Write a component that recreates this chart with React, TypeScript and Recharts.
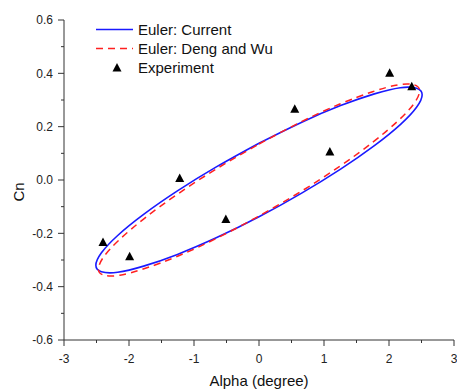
import React from 'react';
import { ComposedChart, Line, Scatter, XAxis, YAxis, Legend, Label } from 'recharts';

// Euler: Current (closed loop, read around the ellipse)
const currentAlpha = [0, 0.65, 1.255, 1.775, 2.174, 2.424, 2.51, 2.424, 2.174, 1.775, 1.255, 0.65, 0, -0.65, -1.255, -1.775, -2.174, -2.424, -2.51, -2.424, -2.174, -1.775, -1.255, -0.65, 0];
const currentCn = [0.138, 0.216, 0.279, 0.323, 0.346, 0.344, 0.32, 0.273, 0.208, 0.129, 0.041, -0.05, -0.138, -0.216, -0.279, -0.323, -0.346, -0.344, -0.32, -0.273, -0.208, -0.129, -0.041, 0.05, 0.138];

// Euler: Deng and Wu
const dengAlpha = [0, 0.639, 1.235, 1.747, 2.139, 2.386, 2.47, 2.386, 2.139, 1.747, 1.235, 0.639, 0, -0.639, -1.235, -1.747, -2.139, -2.386, -2.47, -2.386, -2.139, -1.747, -1.235, -0.639, 0];
const dengCn = [0.135, 0.217, 0.284, 0.331, 0.357, 0.357, 0.334, 0.287, 0.222, 0.141, 0.05, -0.044, -0.135, -0.217, -0.284, -0.331, -0.357, -0.357, -0.334, -0.287, -0.222, -0.141, -0.05, 0.044, 0.135];

// Experiment
const expAlpha = [-2.4, -1.99, -1.22, -0.51, 0.55, 1.09, 2.01, 2.35];
const expCn = [-0.234, -0.288, 0.006, -0.148, 0.265, 0.105, 0.4, 0.35];

const xTicks = [-3, -2.5, -2, -1.5, -1, -0.5, 0, 0.5, 1, 1.5, 2, 2.5, 3];
const yTicks = [-0.6, -0.5, -0.4, -0.3, -0.2, -0.1, 0, 0.1, 0.2, 0.3, 0.4, 0.5, 0.6];

const seriesNames = ['Euler: Current', 'Euler: Deng and Wu', 'Experiment'];

const toPoints = (a: number[], c: number[]) => a.map((alpha, i) => ({ alpha, cn: c[i] }));

const currentData = toPoints(currentAlpha, currentCn);
const dengData = toPoints(dengAlpha, dengCn);
const expData = toPoints(expAlpha, expCn);

const FONT = '"Liberation Sans", Arial, sans-serif';
const AXIS = '#333';
const BLUE = '#1a1aff';
const RED = '#ff2020';

const YTick = (props: any) => {
  const { x, y, payload } = props;
  const v = payload.value;
  const major = Math.abs(Math.round(v * 10)) % 2 === 0;
  const axisX = x + 11;
  return (
    <g>
      <line x1={axisX - (major ? 6 : 3)} x2={axisX} y1={y} y2={y} stroke={AXIS} />
      {major && (
        <text x={x} y={y} dy="0.355em" textAnchor="end" fontSize={12} fill="#222" fontFamily={FONT}>
          {v.toFixed(1)}
        </text>
      )}
    </g>
  );
};

const XTick = (props: any) => {
  const { x, y, payload } = props;
  const v = payload.value;
  const major = Number.isInteger(v);
  const axisY = y - 14;
  return (
    <g>
      <line x1={x} x2={x} y1={axisY} y2={axisY + (major ? 6 : 3)} stroke={AXIS} />
      {major && (
        <text x={x} y={y} dy="0.71em" textAnchor="middle" fontSize={12} fill="#222" fontFamily={FONT}>
          {v}
        </text>
      )}
    </g>
  );
};

const Triangle = (props: any) => {
  const { cx, cy } = props;
  return <path d={`M${cx},${cy - 5}L${cx + 4.5},${cy + 3.5}L${cx - 4.5},${cy + 3.5}Z`} fill="#000" />;
};

const LegendBox = () => (
  <div style={{ fontFamily: FONT, fontSize: 15, color: '#111' }}>
    {seriesNames.map((name, i) => (
      <div key={name} style={{ display: 'flex', alignItems: 'center', height: 19 }}>
        <svg width={37} height={19} style={{ marginRight: 5 }}>
          {i === 0 && <line x1={0} x2={37} y1={9.5} y2={9.5} stroke={BLUE} strokeWidth={1.6} />}
          {i === 1 && <line x1={0} x2={37} y1={9.5} y2={9.5} stroke={RED} strokeWidth={1.5} strokeDasharray="7 5" />}
          {i === 2 && <path d="M21,5L25.5,13.5L16.5,13.5Z" fill="#000" />}
        </svg>
        <span style={{ whiteSpace: 'nowrap' }}>{name}</span>
      </div>
    ))}
  </div>
);

export default function App() {
  return (
    <div style={{ position: 'absolute', left: 0, top: 0, background: '#fff', fontFamily: FONT }}>
      <ComposedChart width={457} height={389} margin={{ top: 20, right: 3, bottom: 0, left: 0 }}>
        <XAxis
          type="number"
          dataKey="alpha"
          domain={[-3, 3]}
          ticks={xTicks}
          allowDataOverflow
          height={49}
          stroke={AXIS}
          tickLine={false}
          tickSize={6}
          tickMargin={8}
          tick={<XTick />}
          interval={0}
        >
          <Label
            content={(p: any) => {
              const vb = p.viewBox;
              return (
                <text x={vb.x + vb.width / 2} y={vb.y + 46} textAnchor="middle" fontSize={15} fill="#111" fontFamily={FONT}>
                  Alpha (degree)
                </text>
              );
            }}
          />
        </XAxis>
        <YAxis
          type="number"
          dataKey="cn"
          domain={[-0.6, 0.6]}
          ticks={yTicks}
          allowDataOverflow
          width={64}
          stroke={AXIS}
          tickLine={false}
          tickSize={6}
          tickMargin={5}
          tick={<YTick />}
          interval={0}
        >
          <Label
            content={() => (
              <text x={24} y={192} transform="rotate(-90 24 192)" textAnchor="middle" fontSize={15} fill="#111" fontFamily={FONT}>
                Cn
              </text>
            )}
          />
        </YAxis>
        <Legend
          layout="vertical"
          align="center"
          verticalAlign="middle"
          wrapperStyle={{ top: 20, left: 96, width: 'auto' }}
          content={() => <LegendBox />}
        />
        <Line
          data={currentData}
          dataKey="cn"
          name={seriesNames[0]}
          type="natural"
          stroke={BLUE}
          strokeWidth={1.6}
          dot={false}
          activeDot={false}
          isAnimationActive={false}
        />
        <Line
          data={dengData}
          dataKey="cn"
          name={seriesNames[1]}
          type="natural"
          stroke={RED}
          strokeWidth={1.5}
          strokeDasharray="7 5"
          dot={false}
          activeDot={false}
          isAnimationActive={false}
        />
        <Scatter data={expData} dataKey="cn" name={seriesNames[2]} fill="#000" shape={<Triangle />} isAnimationActive={false} />
      </ComposedChart>
    </div>
  );
}
